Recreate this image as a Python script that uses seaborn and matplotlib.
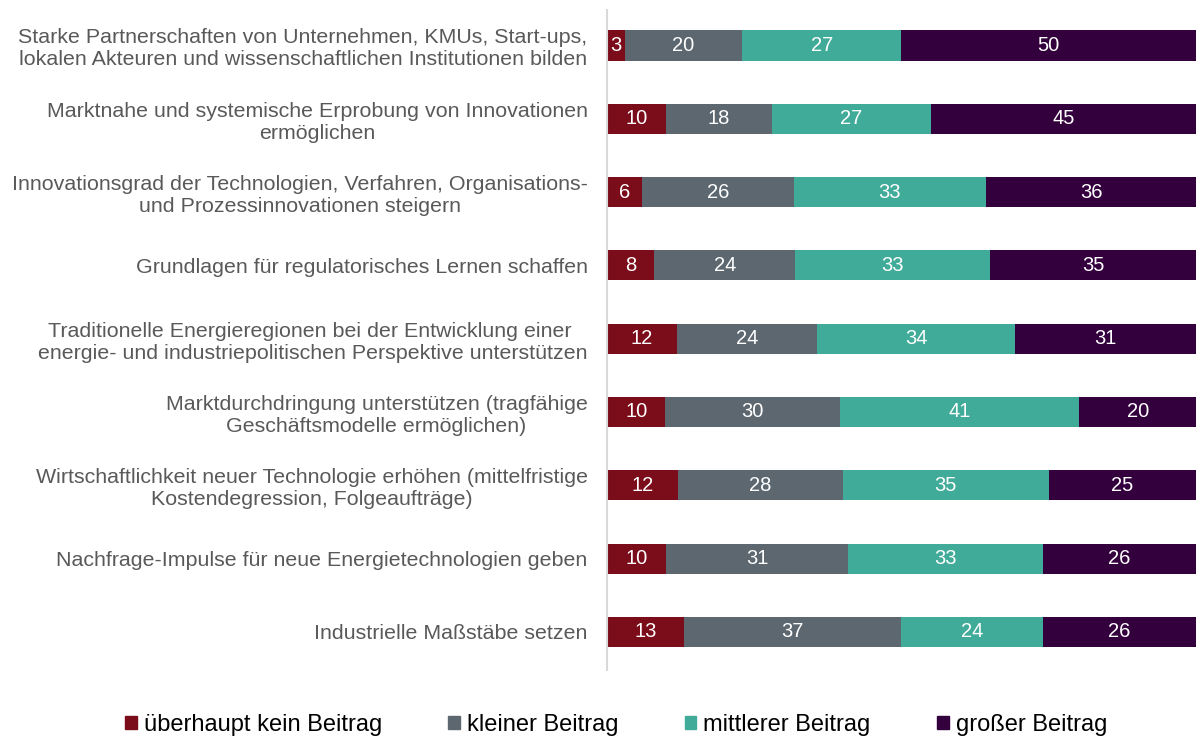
import numpy as np
import pandas as pd
import matplotlib
matplotlib.use('Agg')
import matplotlib.pyplot as plt
import seaborn as sns

categories = [
    "Starke Partnerschaften von Unternehmen, KMUs, Start-ups,\nlokalen Akteuren und wissenschaftlichen Institutionen bilden",
    "Marktnahe und systemische Erprobung von Innovationen\nermöglichen",
    "Innovationsgrad der Technologien, Verfahren, Organisations-\nund Prozessinnovationen steigern",
    "Grundlagen für regulatorisches Lernen schaffen",
    "Traditionelle Energieregionen bei der Entwicklung einer \nenergie- und industriepolitischen Perspektive unterstützen",
    "Marktdurchdringung unterstützen (tragfähige\nGeschäftsmodelle ermöglichen)",
    "Wirtschaftlichkeit neuer Technologie erhöhen (mittelfristige\nKostendegression, Folgeaufträge)",
    "Nachfrage-Impulse für neue Energietechnologien geben",
    "Industrielle Maßstäbe setzen",
]
series = ["überhaupt kein Beitrag", "kleiner Beitrag", "mittlerer Beitrag", "großer Beitrag"]
kein = [3, 10, 6, 8, 12, 10, 12, 10, 13]
klein = [20, 18, 26, 24, 24, 30, 28, 31, 37]
mittel = [27, 27, 33, 33, 34, 41, 35, 33, 24]
gross = [50, 45, 36, 35, 31, 20, 25, 26, 26]
colors = ["#7B0C1A", "#5C6770", "#41AB99", "#33003D"]

df = pd.DataFrame({"cat": categories, series[0]: kein, series[1]: klein,
                   series[2]: mittel, series[3]: gross})
vals = df[series].to_numpy(dtype=float)
# rows are shown as 100% bars
share = vals / vals.sum(axis=1, keepdims=True) * 100
cum = np.cumsum(share, axis=1)

plt.rcParams['font.family'] = ['Liberation Sans', 'DejaVu Sans']
fig = plt.figure(figsize=(11.96, 7.37), dpi=100)
ax = fig.add_axes([0.5075, 0.091, 0.4925, 0.895])

# draw from the full stack down so each segment covers the next
for i in range(3, -1, -1):
    plot_df = pd.DataFrame({"cat": categories, "v": cum[:, i]})
    sns.barplot(data=plot_df, x="v", y="cat", orient="h", color=colors[i],
                width=0.41, saturation=1, ax=ax, label=series[i])

for r in range(len(categories)):
    for i in range(4):
        left = cum[r, i] - share[r, i]
        ax.text(left + share[r, i] / 2, r, f"{int(vals[r, i])}", color="white",
                ha="center", va="center", fontsize=14.5)

ax.set_xlim(0, 100)
ax.set_ylim(8.52, -0.48)
ax.set_xlabel("")
ax.set_ylabel("")
ax.set_xticks([])
for s in ["top", "right", "bottom"]:
    ax.spines[s].set_visible(False)
ax.spines["left"].set_color("#D9D9D9")
ax.spines["left"].set_linewidth(1.5)
ax.tick_params(axis="y", length=0, pad=14, labelsize=15.4, labelcolor="#595959")
for t in ax.get_yticklabels():
    t.set_multialignment("center")
    t.set_linespacing(1.2)

leg = ax.get_legend()
if leg is not None:
    leg.remove()
handles = [plt.Rectangle((0, 0), 1, 1, color=c) for c in colors]
fig.legend(handles, series, loc="lower center", ncol=4, frameon=False,
           bbox_to_anchor=(0.515, -0.027), fontsize=17, handlelength=0.5,
           handleheight=0.5, handletextpad=0.3, columnspacing=2.8,
           labelcolor="#000000")

fig.savefig("out.png", dpi=100)
